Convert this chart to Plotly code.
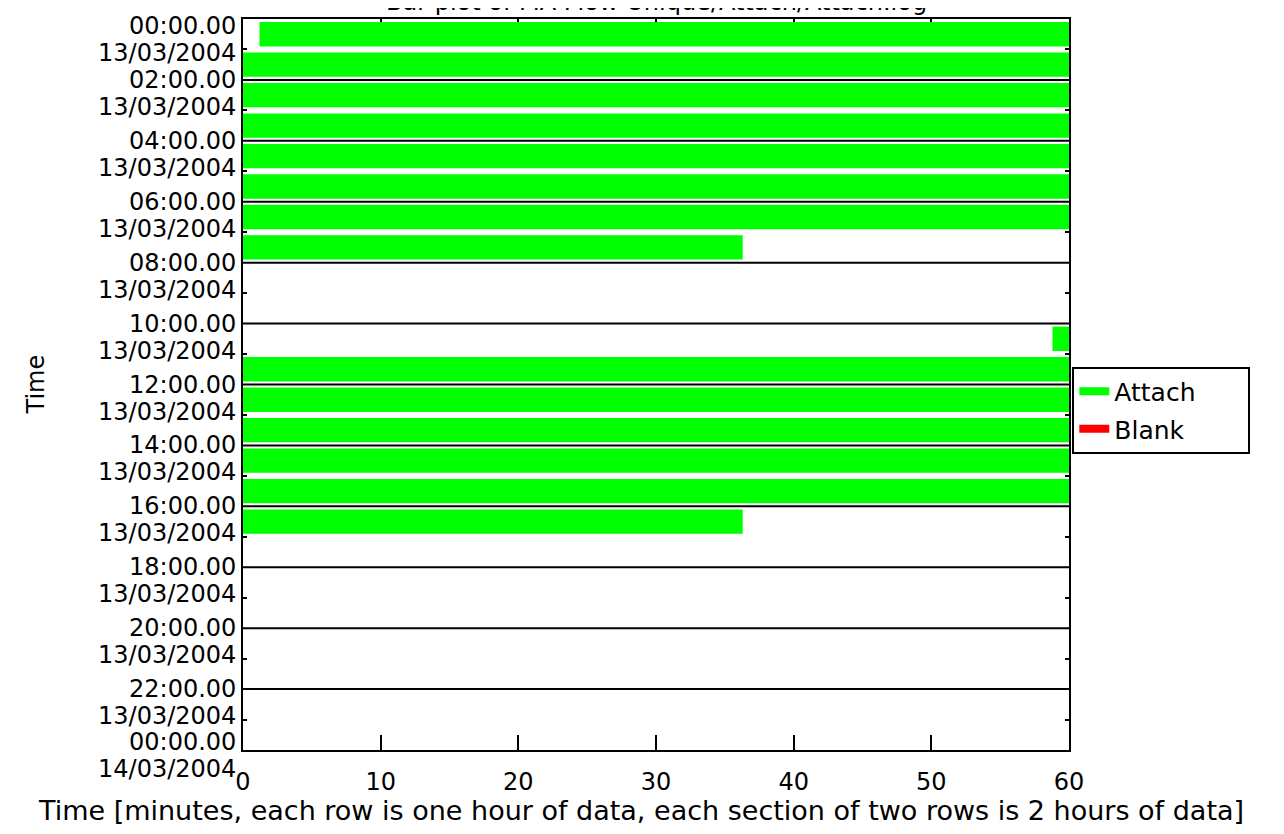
import plotly.graph_objects as go

# ---- data ----
hours = list(range(24))
# start / end minute of the "Attach" bar in each hour row (None = no data)
attach_start = [1.2, 0, 0, 0, 0, 0, 0, 0, None, None, 58.8, 0, 0, 0, 0, 0, 0,
                None, None, None, None, None, None, None]
attach_end = [60, 60, 60, 60, 60, 60, 60, 36.3, None, None, 60, 60, 60, 60, 60, 60, 36.3,
              None, None, None, None, None, None, None]
section_times = ["00:00.00", "02:00.00", "04:00.00", "06:00.00", "08:00.00", "10:00.00",
                 "12:00.00", "14:00.00", "16:00.00", "18:00.00", "20:00.00", "22:00.00", "00:00.00"]
section_dates = ["13/03/2004"] * 12 + ["14/03/2004"]
x_ticks = [0, 10, 20, 30, 40, 50, 60]
legend_names = ["Attach", "Blank"]

title_text = "Bar plot of MA Flow Unique/Attach/Attach.log"
x_title = "Time [minutes, each row is one hour of data, each section of two rows is 2 hours of data]"
y_title = "Time"

GREEN = "#00FF00"
RED = "#FF0000"
FONT = "DejaVu Sans"
PAD = "\u00a0" * 6

ys, bases, lens = [], [], []
for h, s, e in zip(hours, attach_start, attach_end):
    if s is None:
        continue
    ys.append(h + 0.5)
    bases.append(s)
    lens.append(e - s)

fig = go.Figure()
fig.add_trace(go.Bar(y=ys, x=lens, base=bases, orientation="h", width=0.8,
                     marker=dict(color=GREEN, line=dict(width=0)),
                     showlegend=False, hoverinfo="skip"))
# legend entries
for name, col in zip(legend_names, [GREEN, RED]):
    fig.add_trace(go.Scatter(x=[None], y=[None], mode="lines", name=name + PAD,
                             legendgroup=name, line=dict(color=col, width=8)))

shapes = []
for k in range(1, 12):
    shapes.append(dict(type="line", xref="x", yref="y", x0=0, x1=60, y0=2 * k, y1=2 * k,
                       line=dict(color="black", width=2), layer="below"))

annotations = []
n = len(section_times)
for k, (t, d) in enumerate(zip(section_times, section_dates)):
    shift = 0
    if k == 0:
        shift = -7
    elif k == n - 1:
        shift = 8
    annotations.append(dict(xref="paper", yref="y", x=0, y=2 * k, xanchor="right", yanchor="middle",
                            xshift=-5, yshift=shift, text=t, showarrow=False,
                            font=dict(family=FONT, size=24, color="black")))
    annotations.append(dict(xref="paper", yref="y", x=0, y=2 * k, xanchor="right", yanchor="middle",
                            xshift=-5, yshift=shift - 27, text=d, showarrow=False,
                            font=dict(family=FONT, size=24, color="black")))

annotations.append(dict(xref="paper", yref="paper", x=0.5, y=1, xanchor="center", yanchor="bottom",
                        yshift=1, text=title_text, showarrow=False,
                        font=dict(family=FONT, size=24, color="black")))
annotations.append(dict(xref="paper", yref="paper", x=0.5, y=0, xanchor="center", yanchor="middle",
                        yshift=-60, xshift=-15, text=x_title, showarrow=False,
                        font=dict(family=FONT, size=27, color="black")))
annotations.append(dict(xref="paper", yref="paper", x=0, y=0.5, xanchor="center", yanchor="middle",
                        xshift=-208, text=y_title, textangle=-90, showarrow=False,
                        font=dict(family=FONT, size=24, color="black")))

# page body has an 8px margin; the figure is sized so that the page is exactly 1284x834
fig.update_layout(
    width=1268, height=818,
    margin=dict(l=235, r=207, t=9, b=76),
    paper_bgcolor="white", plot_bgcolor="white",
    barmode="overlay",
    shapes=shapes, annotations=annotations,
    showlegend=True,
    legend=dict(x=1.004, y=0.465, xanchor="left", yanchor="middle",
                bordercolor="black", borderwidth=2, bgcolor="white",
                font=dict(family=FONT, size=25, color="black"),
                tracegroupgap=2),
    font=dict(family=FONT, size=24, color="black"),
)
fig.update_xaxes(range=[0, 60], tickvals=x_ticks, ticks="inside", ticklen=15, tickwidth=2,
                 tickcolor="black", showline=True, linecolor="black", linewidth=2,
                 mirror="ticks", showgrid=False, zeroline=False, layer="below traces",
                 ticklabelstandoff=9, tickfont=dict(family=FONT, size=24, color="black"))
fig.update_yaxes(range=[24, 0], tickvals=[h for h in range(1, 24, 2)], ticks="inside", ticklen=4,
                 tickwidth=2, tickcolor="black", showticklabels=False,
                 showline=True, linecolor="black", linewidth=2, mirror="ticks",
                 showgrid=False, zeroline=False, layer="below traces")

fig.write_html("out.html")
